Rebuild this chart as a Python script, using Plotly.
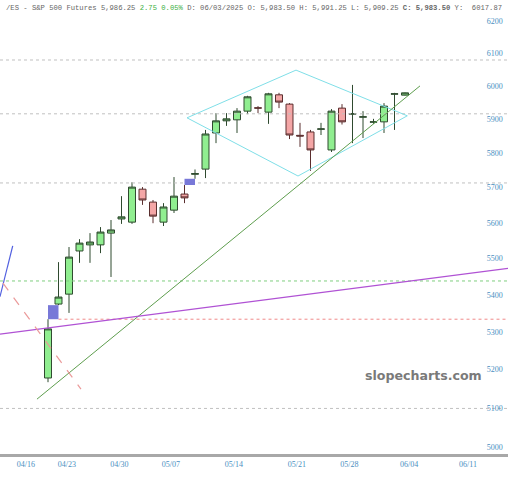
import math
import plotly.graph_objects as go

# ---------------- data ----------------
candle_idx = list(range(35))
opens = [5180, 5377, 5404, 5523, 5540, 5540, 5573, 5613, 5604, 5698,
         5661, 5604, 5638, 5684, 5741, 5756, 5862, 5898, 5901, 5927,
         5937, 5924, 5976, 5948, 5855, 5865, 5873, 5812, 5936, 5918,
         5909, 5894, 5895, 5978, 5975]
highs = [5336, 5492, 5534, 5556, 5573, 5590, 5610, 5678, 5718, 5704,
         5667, 5658, 5733, 5710, 5755, 5871, 5921, 5921, 5936, 5973,
         5942, 5982, 5982, 5951, 5892, 5871, 5892, 5933, 5948, 6006,
         5927, 5904, 5951, 5982, 5983]
lows = [5169, 5374, 5353, 5490, 5490, 5517, 5451, 5599, 5599, 5653,
        5601, 5593, 5630, 5658, 5728, 5730, 5832, 5883, 5862, 5918,
        5921, 5889, 5936, 5844, 5821, 5751, 5856, 5806, 5887, 5832,
        5847, 5889, 5862, 5871, 5974]
closes = [5310, 5396, 5506, 5545, 5548, 5576, 5582, 5619, 5704, 5667,
          5621, 5647, 5678, 5673, 5743, 5859, 5898, 5904, 5927, 5970,
          5936, 5979, 5954, 5856, 5853, 5812, 5874, 5927, 5895, 5919,
          5910, 5895, 5942, 5979, 5982]

tick_pos = [-2.1, 1.8, 6.8, 11.7, 17.7, 23.7, 28.7, 34.4, 40.0]
tick_labels = ["04/16", "04/23", "04/30", "05/07", "05/14", "05/21", "05/28", "06/04", "06/11"]
price_ticks = list(range(5000, 6201, 100))
price_labels = [str(v) for v in price_ticks]

gray_levels = [6082, 5919, 5716, 5101]
green_level = 5440
red_level = 5336
red_level_start = 1

diamond_x = [13.24, 23.62, 34.22, 23.81, 13.24]
diamond_y = [5907, 6051, 5913, 5736, 5907]
green_trend_x = [-1.05, 35.43]
green_trend_y = [5125, 6003]
purple_x = [-4.571, 43.81]
purple_y = [5296, 5475]
blue_x = [-4.571, -3.36]
blue_y = [5397, 5537]
pink_x = [-4.29, 3.14]
pink_y = [5434, 5151]

header = ("/ES - S&P 500 Futures 5,986.25 <span style='color:#3cb043'>2.75 0.05%</span> "
          "D: 06/03/2025 O: 5,983.50 H: 5,991.25 L: 5,909.25 <b>C: 5,983.50</b> Y:  6017.87")

# ---------------- figure ----------------
XMIN, XMAX = -4.571, 43.81
YMIN, YMAX = 4985, 6269

fig = go.Figure()

fig.add_trace(go.Candlestick(
    x=candle_idx, open=opens, high=highs, low=lows, close=closes,
    increasing=dict(fillcolor="#90ee90", line=dict(color="#2f4a2f", width=1)),
    decreasing=dict(fillcolor="#f4a6a6", line=dict(color="#5a2e2e", width=1)),
    whiskerwidth=0, showlegend=False, hoverinfo="skip",
))

def hline(level, color, x0=XMIN, dash="dot", width=1):
    fig.add_trace(go.Scatter(x=[x0, XMAX], y=[level, level], mode="lines",
                             line=dict(color=color, width=width, dash=dash),
                             showlegend=False, hoverinfo="skip"))

for lv in gray_levels:
    hline(lv, "#c0c0c0")
hline(green_level, "#7fcf7f")
hline(red_level, "#f08a8a", x0=red_level_start)

# gap boxes
for i in range(len(candle_idx) - 1):
    if lows[i + 1] > highs[i]:
        x0, x1 = candle_idx[i], candle_idx[i + 1]
        y0, y1 = highs[i], lows[i + 1]
        fig.add_trace(go.Scatter(x=[x0, x1, x1, x0, x0], y=[y0, y0, y1, y1, y0],
                                 mode="lines", fill="toself", fillcolor="#7878d8",
                                 line=dict(width=0, color="#7878d8"),
                                 showlegend=False, hoverinfo="skip"))

def seg(xs, ys, color, width=1, dash="solid"):
    fig.add_trace(go.Scatter(x=xs, y=ys, mode="lines",
                             line=dict(color=color, width=width, dash=dash),
                             showlegend=False, hoverinfo="skip"))

seg(diamond_x, diamond_y, "#7fdfe8")
seg(green_trend_x, green_trend_y, "#5e9e4e")
seg(purple_x, purple_y, "#b052d4", width=1.3)
seg(blue_x, blue_y, "#5260e0", width=1.2)
seg(pink_x, pink_y, "#eb9a9a", width=1.2, dash="dash")

# price labels drawn inside the plot on the right
fig.add_trace(go.Scatter(x=[XMAX - 0.5] * len(price_ticks), y=price_ticks, mode="text",
                         text=price_labels, textposition="middle left",
                         textfont=dict(family="Liberation Serif", size=8, color="#4a8fbf"),
                         showlegend=False, hoverinfo="skip", cliponaxis=False))

fig.add_annotation(text=header, xref="paper", yref="paper", x=0.008, y=1, yshift=-2,
                   xanchor="left", yanchor="top", showarrow=False,
                   font=dict(family="Liberation Mono", size=7.2, color="#666666"))
fig.add_annotation(text="<b>slopecharts.com</b>", xref="paper", yref="paper",
                   x=0.834, y=0.172, xanchor="center", yanchor="middle", showarrow=False,
                   font=dict(family="DejaVu Sans", size=12.6, color="#7a7a7a"))

fig.update_layout(
    width=508, height=480,
    margin=dict(l=0, r=0, t=0, b=26),
    paper_bgcolor="white", plot_bgcolor="white",
    boxgap=0.05,
    hovermode=False,
    xaxis=dict(range=[XMIN, XMAX], showgrid=False, zeroline=False,
               rangeslider=dict(visible=False),
               tickmode="array", tickvals=tick_pos, ticktext=tick_labels,
               tickfont=dict(family="Liberation Serif", size=8, color="#4a8fbf"),
               showline=True, linecolor="#a8a8a8", linewidth=3, ticks=""),
    yaxis=dict(type="log", range=[math.log10(YMIN), math.log10(YMAX)],
               showgrid=False, zeroline=False, showticklabels=False, ticks=""),
)

fig.write_html("out.html", config={"displayModeBar": False},
               post_script="document.body.style.margin='0px';document.body.style.overflow='hidden';")
